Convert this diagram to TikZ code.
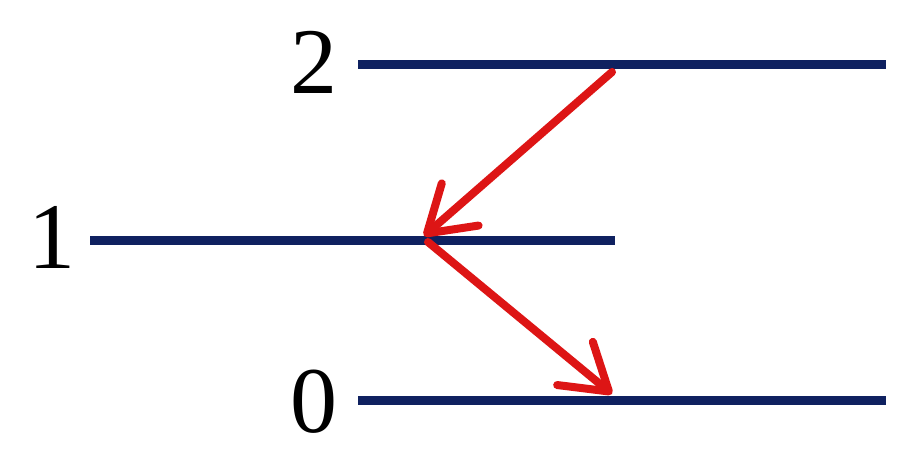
\documentclass[tikz,border=0pt]{standalone}
\usepackage{fontspec}
\setmainfont{Liberation Serif}
\usetikzlibrary{arrows.meta}
\definecolor{navy}{HTML}{0F2160}
\definecolor{redarrow}{HTML}{DD1515}
\begin{document}
\begin{tikzpicture}[x=1pt,y=-1pt,
  level/.style={line width=9pt,draw=navy},
  trans/.style={line width=8pt,draw=redarrow,line cap=round,
    -{Straight Barb[length=44pt,width=56pt,line width=8pt,round]}},
  lab/.style={font=\fontsize{94}{94}\selectfont,inner sep=0pt,anchor=east}]
\useasboundingbox (0,0) rectangle (904,461);
\fill[white] (0,0) rectangle (904,461);
% levels
\coordinate (l2a) at (358,64);  \coordinate (l2b) at (886,64);
\coordinate (l1a) at (90,240);  \coordinate (l1b) at (615,240);
\coordinate (l0a) at (358,400); \coordinate (l0b) at (886,400);
\draw[level] (l2a) -- (l2b);
\draw[level] (l1a) -- (l1b);
\draw[level] (l0a) -- (l0b);
\node[lab] (t2) at (338,62) {2};
\node[lab] (t1) at (76,237) {1};
\node[lab] (t0) at (338,402) {0};
% transitions
\coordinate (s2) at (612,72);
\coordinate (e1) at (424,236);
\coordinate (s1) at (428,242);
\coordinate (e0) at (612,394);
\draw[trans] (s2) -- (e1);
\draw[trans] (s1) -- (e0);
\end{tikzpicture}
\end{document}
